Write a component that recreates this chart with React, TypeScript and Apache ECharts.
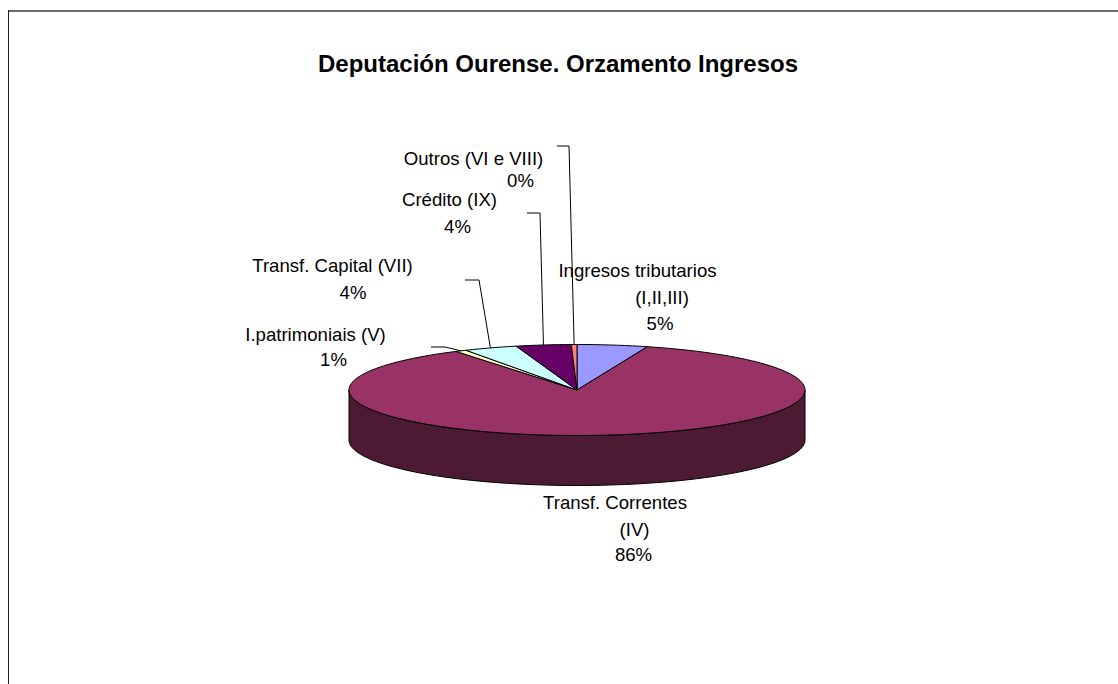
import React, { useEffect, useRef } from "react";
import * as echarts from "echarts";

const title = "Deputación Ourense. Orzamento Ingresos";
const categories = ["Ingresos tributarios (I,II,III)", "Transf. Correntes (IV)", "I.patrimoniais (V)", "Transf. Capital (VII)", "Crédito (IX)", "Outros (VI e VIII)"];
const values = [5.0, 86.1, 0.8, 3.8, 3.9, 0.4];
const percentLabels = ["5%", "86%", "1%", "4%", "4%", "0%"];
const colors = ["#9999FF", "#993366", "#FFFFCC", "#CCFFFF", "#660066", "#FF8080"];
const sideColor = "#4C1A33";

const CX = 577, CY = 390, RX = 228, RY = 45.5, DEPTH = 50;
const total = values.reduce((a, b) => a + b, 0);
const rimPoint = (deg: number, dy = 0) => {
  const r = (deg * Math.PI) / 180;
  return [CX + RX * Math.sin(r), CY - RY * Math.cos(r) + dy];
};

// per-slice text lines: [text, x, middle y]
const labelLines: [string, number, number][][] = [
  [["Ingresos tributarios", 637.5, 270], ["(I,II,III)", 662, 297], [percentLabels[0], 660, 323]],
  [["Transf. Correntes", 615, 502], ["(IV)", 634.5, 529], [percentLabels[1], 633.5, 554]],
  [["I.patrimoniais (V)", 315.5, 334], [percentLabels[2], 333.5, 359]],
  [["Transf. Capital (VII)", 332.5, 265], [percentLabels[3], 353, 292]],
  [["Crédito (IX)", 449.5, 199], [percentLabels[4], 457.5, 226]],
  [["Outros (VI e VIII)", 473.5, 158], [percentLabels[5], 520.5, 180]],
];
// leader elbows by slice (null = no leader)
const leaders: (number[][] | null)[] = [
  null,
  null,
  [[431, 347], [445, 347]],
  [[465, 280], [479, 280]],
  [[527, 213], [540, 213]],
  [[557, 146], [569, 146]],
];

function arcPath(a0: number, a1: number, dy = 0) {
  const steps = Math.max(2, Math.ceil((a1 - a0) / 2));
  let d = "";
  for (let i = 0; i <= steps; i++) {
    const p = rimPoint(a0 + ((a1 - a0) * i) / steps, dy);
    d += (i === 0 ? "M" : "L") + p[0].toFixed(2) + " " + p[1].toFixed(2) + " ";
  }
  return d;
}

export default function App() {
  const ref = useRef<HTMLDivElement>(null);
  useEffect(() => {
    const chart = echarts.init(ref.current!, undefined, { renderer: "svg" });
    chart.setOption({
      animation: false,
      backgroundColor: "#fff",
      title: {
        text: title,
        left: 553,
        top: 46,
        textAlign: "center",
        textStyle: { fontFamily: "Liberation Sans", fontWeight: "bold", fontSize: 24, color: "#000" },
      },
      graphic: [
        { type: "line", shape: { x1: 8, y1: 11, x2: 1118, y2: 11 }, style: { stroke: "#6a6a74", lineWidth: 2 } },
        { type: "line", shape: { x1: 8.5, y1: 10, x2: 8.5, y2: 684 }, style: { stroke: "#222", lineWidth: 1 } },
      ],
      series: [
        {
          type: "custom",
          coordinateSystem: "none",
          data: values.map((v, i) => ({ value: v, name: categories[i] })),
          renderItem: (params: any) => {
            const i = params.dataIndex;
            const start = values.slice(0, i).reduce((a, b) => a + b, 0);
            const a0 = (start / total) * 360;
            const a1 = ((start + values[i]) / total) * 360;
            const children: any[] = [];
            // front wall
            const w0 = Math.max(a0, 90), w1 = Math.min(a1, 270);
            if (w1 > w0) {
              const top = arcPath(w0, w1);
              const pts: number[][] = [];
              const steps = Math.ceil((w1 - w0) / 2);
              for (let k = steps; k >= 0; k--) pts.push(rimPoint(w0 + ((w1 - w0) * k) / steps, DEPTH));
              const back = pts.map((p) => "L" + p[0].toFixed(2) + " " + p[1].toFixed(2)).join(" ");
              children.push({
                type: "path",
                shape: { pathData: top + back + " Z" },
                style: { fill: sideColor, stroke: "#000", lineWidth: 1 },
              });
            }
            children.push({
              type: "path",
              shape: { pathData: `M${CX} ${CY} ` + arcPath(a0, a1).replace(/^M/, "L") + " Z" },
              style: { fill: colors[i], stroke: "#000", lineWidth: 1, lineJoin: "round" },
            });
            const lead = leaders[i];
            if (lead) {
              const mid = rimPoint((a0 + a1) / 2);
              children.push({
                type: "polyline",
                z2: 5,
                shape: { points: [...lead, mid] },
                style: { fill: "none", stroke: "#000", lineWidth: 1 },
              });
            }
            labelLines[i].forEach(([text, x, y]) => {
              children.push({
                type: "text",
                z2: 6,
                x,
                y,
                style: { text, fill: "#000", font: '18.6px "Liberation Sans"', textAlign: "center", textVerticalAlign: "middle" },
              });
            });
            return { type: "group", children };
          },
        },
      ],
    });
    return () => chart.dispose();
  }, []);
  return <div ref={ref} style={{ position: "fixed", left: 0, top: 0, width: 1118, height: 684 }} />;
}
